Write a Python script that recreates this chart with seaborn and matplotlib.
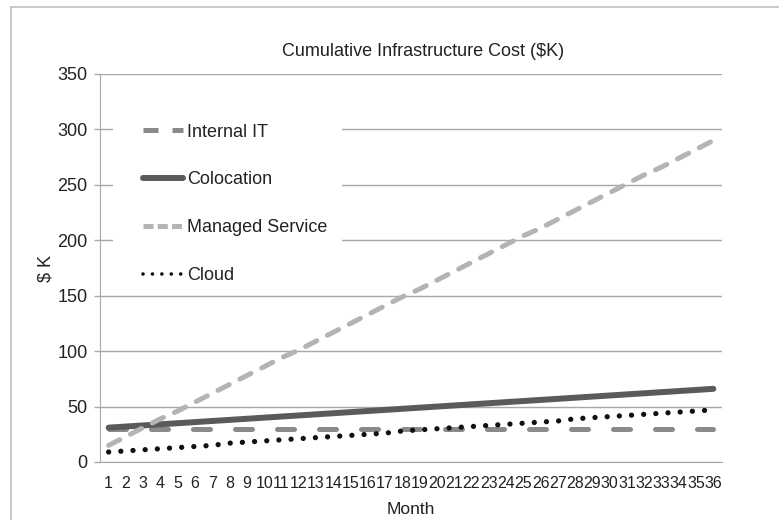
import matplotlib
matplotlib.use("Agg")
import matplotlib.pyplot as plt
import seaborn as sns
from matplotlib.lines import Line2D
from matplotlib.patches import Rectangle

months = list(range(1, 37))
internal_it = [30] * 36
colocation = [31, 32, 33, 34, 35, 36, 37, 38, 39, 40, 41, 42, 43, 44, 45, 46, 47, 48,
              49, 50, 51, 52, 53, 54, 55, 56, 57, 58, 59, 60, 61, 62, 63, 64, 65, 66]
managed = [15, 23, 31, 39, 46, 54, 62, 70, 78, 86, 94, 101, 109, 117, 125, 133, 141, 149,
           156, 164, 172, 180, 188, 196, 204, 211, 219, 227, 235, 243, 251, 259, 266, 274, 282, 290]
cloud = [9, 10, 11, 12, 13, 14, 15, 17, 18, 19, 20, 21, 22, 23, 24, 25, 26, 28,
         29, 30, 31, 32, 33, 34, 35, 36, 37, 39, 40, 41, 42, 43, 44, 45, 46, 47]

sns.set_style("white")
plt.rcParams['font.family'] = ['Liberation Sans', 'DejaVu Sans']
txt = '#222222'
grid = '#a8a8a8'

fig = plt.figure(figsize=(7.79, 5.20), dpi=100)
ax = fig.add_axes([100 / 779, 58 / 520, 622 / 779, 388 / 520])

# light frame at top and left of the figure
fig.add_artist(Line2D([11 / 779, 1], [1 - 7 / 520, 1 - 7 / 520], transform=fig.transFigure,
                      color='#c0c0c0', linewidth=1.2))
fig.add_artist(Line2D([11 / 779, 11 / 779], [0, 1 - 7 / 520], transform=fig.transFigure,
                      color='#c0c0c0', linewidth=1.2))

sns.lineplot(x=months, y=internal_it, ax=ax, color='#8a8a8a', linewidth=3.6,
             label='Internal IT')
ax.lines[-1].set_dashes([3.4, 5.0])
ax.lines[-1].set_dash_capstyle('round')
sns.lineplot(x=months, y=colocation, ax=ax, color='#5a5a5a', linewidth=4.3,
             label='Colocation')
ax.lines[-1].set_solid_capstyle('round')
sns.lineplot(x=months, y=managed, ax=ax, color='#b4b4b4', linewidth=3.6,
             label='Managed Service')
ax.lines[-1].set_dashes([2.5, 2.4])
ax.lines[-1].set_dash_capstyle('round')
sns.lineplot(x=months, y=cloud, ax=ax, color='#111111', linewidth=3.8,
             label='Cloud')
ax.lines[-1].set_dashes([0.01, 2.3])
ax.lines[-1].set_dash_capstyle('round')

ax.set_xlim(0.5, 36.5)
ax.set_ylim(0, 350)
ax.set_yticks(range(0, 351, 50))
ax.yaxis.grid(True, color=grid, linewidth=1)
ax.set_axisbelow(True)
ax.set_xticks(months)
ax.set_xticklabels([str(m) for m in months])
ax.set_xticks([m - 0.5 for m in months] + [36.5], minor=True)
ax.tick_params(axis='x', which='major', length=0, pad=10, labelsize=11.5, colors=txt)
ax.tick_params(axis='x', which='minor', length=5, color=grid, width=1, direction='out')
ax.tick_params(axis='y', length=4, width=1, color=grid, direction='out',
               labelsize=13, labelcolor=txt, pad=5, left=True)
for side in ['top', 'right']:
    ax.spines[side].set_visible(False)
ax.spines['left'].set_color(grid)
ax.spines['bottom'].set_color(grid)

ax.set_title('Cumulative Infrastructure Cost ($K)', fontsize=13, pad=13, color=txt, x=0.52)
ax.set_xlabel('Month', fontsize=12.5, labelpad=8, color=txt)
ax.set_ylabel('$ K', fontsize=13, labelpad=2, color=txt)

# white block behind the legend, hiding the gridlines there
ax.add_patch(Rectangle((0.021, 0.56), 0.368, 0.345, transform=ax.transAxes,
                       facecolor='white', edgecolor='none', zorder=1.5))

leg = ax.legend(loc='upper left', bbox_to_anchor=(0.055, 0.895), frameon=False,
                fontsize=13, handlelength=2.2, handletextpad=0.25, labelspacing=1.7,
                borderpad=0)
for t in leg.get_texts():
    t.set_color(txt)
# shorter dash patterns in the legend keys
handles = leg.get_lines()
handles[0].set_dashes([3.0, 2.8])
handles[0].set_dash_capstyle('butt')
handles[2].set_dashes([2.0, 0.85])
handles[2].set_dash_capstyle('butt')
handles[3].set_linewidth(2.6)
handles[3].set_dashes([0.01, 2.6])

fig.savefig('out.png', dpi=100)
